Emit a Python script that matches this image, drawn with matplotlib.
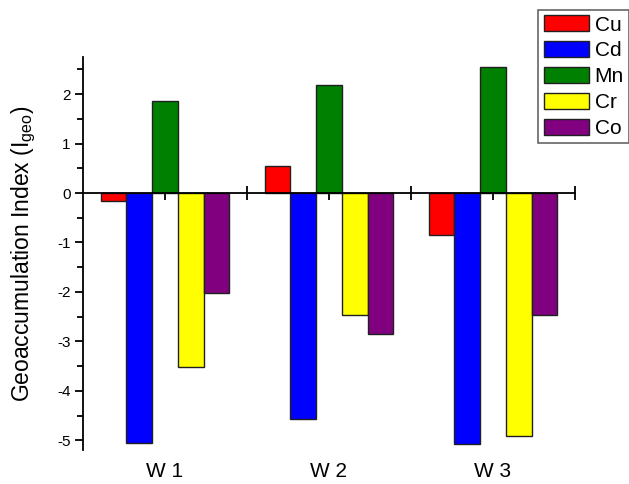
import numpy as np
import matplotlib.pyplot as plt
from matplotlib.transforms import blended_transform_factory

plt.rcParams['font.family'] = ['Liberation Sans', 'DejaVu Sans']

# data
sites = ['W 1', 'W 2', 'W 3']
metals = ['Cu', 'Cd', 'Mn', 'Cr', 'Co']
colors = ['#ff0000', '#0000ff', '#008000', '#ffff00', '#800080']
cu = [-0.16, 0.55, -0.84]
cd = [-5.05, -4.58, -5.08]
mn = [1.86, 2.19, 2.56]
cr = [-3.52, -2.46, -4.91]
co = [-2.02, -2.86, -2.46]
values = [cu, cd, mn, cr, co]

fig = plt.figure(figsize=(6.29, 4.84), dpi=100)
ax = fig.add_axes([0.132, 0.070, 0.782, 0.812])

x = np.arange(1, len(sites) + 1)
w = 0.157
handles = []
for i, (vals, col) in enumerate(zip(values, colors)):
    b = ax.bar(x + (i - 2) * w, vals, width=w, color=col,
               edgecolor='#202020', linewidth=1.0, label=metals[i], zorder=2)
    handles.append(b)

ax.set_xlim(0.5, 3.5)
ax.set_ylim(-5.2, 2.75)

# spines: left only, plus a baseline at zero
for s in ['top', 'right']:
    ax.spines[s].set_visible(False)
ax.spines['bottom'].set_position(('data', 0))
ax.spines['left'].set_linewidth(1.3)
ax.spines['bottom'].set_linewidth(1.3)
ax.spines['bottom'].set_zorder(3)

ax.set_xticks(np.arange(1, 3.51, 0.5))
ax.set_xticklabels([])
ax.tick_params(axis='x', direction='inout', length=10, width=1.3)

ax.set_yticks(np.arange(-5, 2.1, 1))
ax.set_yticklabels([str(v) if v >= 0 else '-' + str(-v) for v in range(-5, 3)])
ax.set_yticks(np.arange(-4.5, 2.6, 1), minor=True)
ax.tick_params(axis='y', direction='out', length=6, width=1.3, labelsize=11, pad=3)
ax.tick_params(axis='y', which='minor', direction='out', length=4, width=1.3)

trans = blended_transform_factory(ax.transData, fig.transFigure)
for xi, name in zip(x, sites):
    ax.text(xi, 0.026, name, transform=trans, ha='center', va='center', fontsize=15)

ax.set_ylabel('Geoaccumulation Index (I$_{\\mathregular{geo}}$)', fontsize=16.5, labelpad=14)

leg = fig.legend(handles=handles, labels=metals, loc='upper right',
                 bbox_to_anchor=(1.0, 0.979), fontsize=15, frameon=True,
                 fancybox=False, edgecolor='#404040', handlelength=2.2,
                 handleheight=0.8, handletextpad=0.25, labelspacing=0.32,
                 borderpad=0.25, borderaxespad=0.0)
leg.get_frame().set_linewidth(1.2)

fig.savefig('out.png', dpi=100)
